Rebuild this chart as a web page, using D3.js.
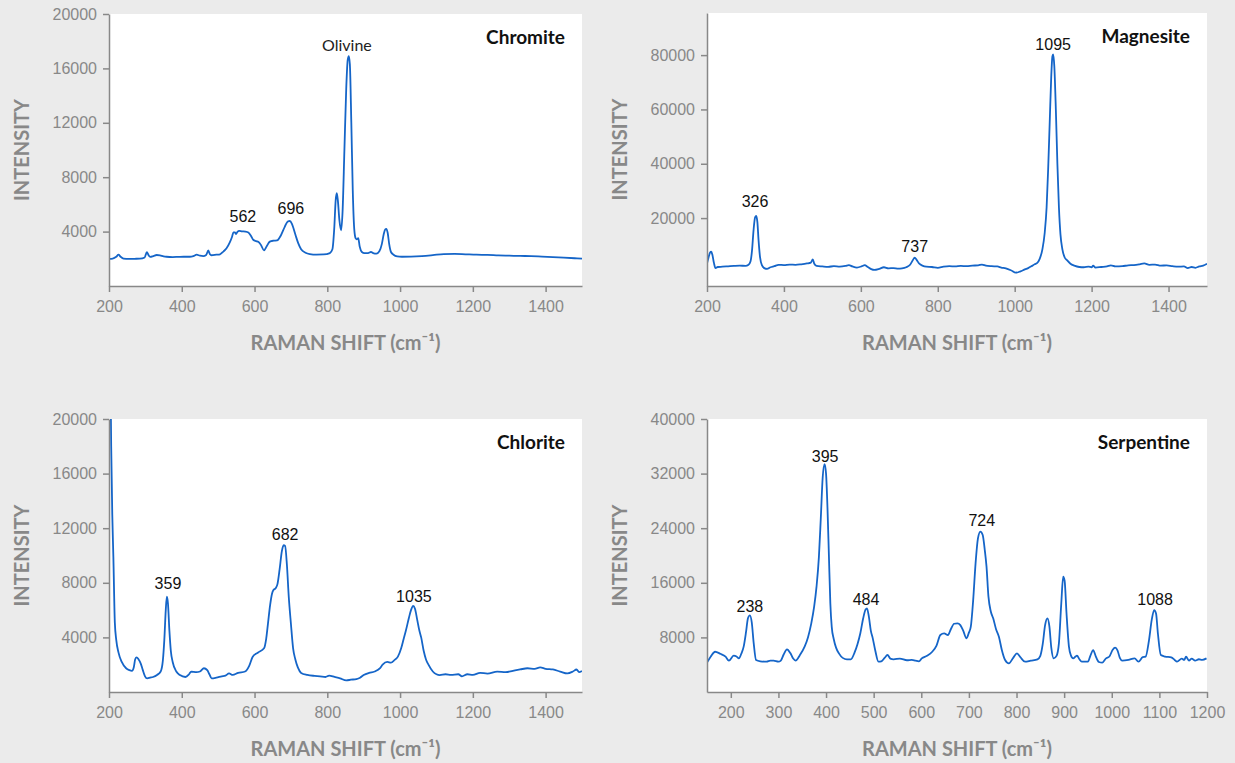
<!DOCTYPE html>
<html>
<head>
<meta charset="utf-8">
<script src="https://cdn.jsdelivr.net/npm/d3@7"></script>
<style>
  body { margin: 0; background: #ebebeb; }
  svg { display: block; }
  .tick text { font-family: "Liberation Sans", Arial, sans-serif; font-size: 16px; fill: #888; }
  .domain, .tick line { stroke: #888; stroke-width: 1.5; }
</style>
</head>
<body>
<svg id="chart" width="1235" height="763"></svg>
<script>
// Raman spectra: [shift cm-1, intensity]

var chromite = [[200,2000],[210,2020],[220,2150],[226,2300],[232,2150],[240,2020],[255,1990],[270,2000],[285,2010],[298,2100],[304,2480],[309,2250],[313,2140],[322,2200],[331,2280],[340,2250],[350,2180],[358,2150],[375,2130],[390,2140],[405,2150],[422,2150],[432,2200],[441,2300],[450,2230],[459,2200],[467,2280],[473,2620],[477,2350],[482,2260],[495,2300],[505,2330],[515,2550],[523,2770],[532,3200],[538,3600],[542,3940],[546,3950],[549,3820],[553,3980],[558,4050],[565,4020],[575,4000],[583,3940],[590,3700],[597,3380],[604,3300],[611,3240],[618,3000],[626,2620],[633,2900],[642,3260],[652,3330],[662,3350],[672,3700],[683,4350],[692,4760],[697,4780],[703,4550],[712,3800],[720,3150],[728,2700],[740,2450],[752,2350],[770,2310],[790,2320],[807,2420],[814,2700],[819,4200],[823,6300],[826,6820],[829,6300],[833,4900],[838,4100],[842,5500],[847,10000],[852,14500],[856,16600],[859,16900],[862,16300],[866,12000],[870,7000],[874,4200],[878,3500],[881,3430],[885,3520],[889,2900],[895,2500],[902,2420],[912,2420],[920,2500],[926,2420],[935,2380],[943,2550],[950,3100],[955,3800],[959,4150],[962,4200],[966,3900],[970,3100],[975,2500],[982,2300],[992,2180],[1005,2150],[1030,2160],[1060,2200],[1090,2270],[1120,2350],[1150,2360],[1180,2330],[1210,2300],[1240,2290],[1270,2250],[1300,2230],[1330,2210],[1360,2200],[1390,2160],[1420,2120],[1450,2080],[1480,2040],[1500,2010]];

var magnesite = [[200,3300],[204,5500],[208,7300],[211,7600],[214,6500],[218,3500],[222,1600],[228,2000],[240,2100],[255,2250],[270,2400],[285,2500],[300,2400],[308,2800],[313,4000],[317,8000],[321,15500],[325,20300],[328,20800],[331,18500],[334,12000],[338,5500],[343,2600],[350,1500],[356,1300],[365,1900],[375,2300],[386,2800],[400,2700],[415,2900],[430,2800],[445,3000],[460,3300],[470,3600],[475,4800],[479,3200],[485,2400],[500,2200],[515,2050],[530,2300],[545,2150],[560,2400],[569,2700],[578,2200],[590,1800],[603,2300],[610,2700],[618,2000],[627,1200],[635,900],[648,1300],[660,1900],[672,1500],[685,1600],[697,1400],[707,1500],[718,1900],[728,2800],[735,4500],[740,5400],[745,4600],[752,3200],[760,2500],[770,2100],[785,2000],[800,1700],[815,2100],[830,2300],[845,2200],[860,2400],[875,2300],[890,2500],[905,2600],[915,2900],[925,2500],[940,2300],[955,2200],[965,1800],[977,1500],[990,800],[1003,-100],[1015,400],[1025,1000],[1035,1600],[1045,2400],[1052,3000],[1058,3400],[1065,5000],[1072,8500],[1078,14500],[1083,24000],[1087,38000],[1091,55000],[1095,72000],[1098,79500],[1100,80300],[1103,76000],[1107,60000],[1111,40000],[1115,24000],[1119,14000],[1124,8500],[1130,5500],[1136,4500],[1145,3200],[1155,2500],[1168,2000],[1180,1900],[1192,2100],[1200,1900],[1204,2500],[1210,1800],[1225,2000],[1240,2200],[1250,2600],[1262,2200],[1280,2300],[1295,2600],[1310,2700],[1325,3000],[1337,3300],[1350,2800],[1365,2900],[1380,2500],[1395,2600],[1410,2300],[1425,2100],[1440,2200],[1450,1600],[1460,2000],[1470,1700],[1480,2200],[1490,2500],[1500,3200]];

var chlorite = [[203,26000],[206,18000],[209,13000],[212,9900],[216,5100],[220,3800],[226,2900],[235,2200],[247,1740],[256,1600],[263,1550],[268,1800],[272,2400],[276,2540],[281,2400],[287,2100],[293,1600],[299,1150],[305,1000],[313,1050],[321,1100],[332,1250],[342,1500],[348,2300],[352,3800],[356,6000],[359,6980],[362,6500],[366,4500],[370,3000],[375,2200],[385,1500],[395,1240],[410,1100],[420,1300],[426,1500],[440,1450],[450,1500],[461,1740],[470,1600],[476,1300],[482,1000],[495,1050],[510,1150],[520,1200],[530,1360],[540,1250],[555,1400],[574,1500],[585,1900],[595,2590],[610,2900],[626,3200],[632,3900],[637,5030],[643,6400],[648,7200],[652,7470],[658,7600],[663,7900],[669,9000],[675,10300],[680,10750],[684,10700],[689,9300],[694,7000],[700,5000],[706,3200],[712,2400],[719,1800],[728,1400],[745,1250],[765,1180],[780,1150],[795,1100],[805,1200],[820,1100],[835,1000],[852,850],[865,900],[880,950],[890,1050],[900,1240],[915,1400],[930,1500],[945,1750],[952,2000],[965,2200],[975,2150],[985,2350],[994,2590],[1003,3200],[1010,3900],[1016,4500],[1024,5400],[1030,6000],[1036,6300],[1041,6100],[1047,5300],[1053,4500],[1058,4000],[1065,3000],[1071,2400],[1078,2000],[1090,1500],[1100,1300],[1109,1240],[1125,1300],[1140,1250],[1160,1300],[1170,1150],[1185,1300],[1200,1250],[1220,1400],[1240,1350],[1267,1500],[1290,1450],[1310,1550],[1330,1650],[1350,1740],[1370,1700],[1385,1800],[1400,1700],[1420,1650],[1440,1500],[1460,1360],[1475,1500],[1485,1650],[1492,1450],[1500,1540]];

var serpentine = [[150,4300],[158,5200],[167,5900],[178,5600],[189,5170],[196,4590],[206,5320],[212,5200],[217,4930],[222,5600],[227,6640],[232,8800],[236,10800],[240,11230],[244,10200],[248,7200],[253,4690],[262,4500],[275,4440],[283,4600],[290,4590],[300,4440],[305,4600],[311,5500],[318,6250],[325,5700],[331,4900],[336,4590],[345,5400],[355,6640],[362,8000],[369,10060],[375,12500],[380,15430],[385,19800],[389,25500],[393,31500],[397,33400],[400,32000],[403,27000],[406,20000],[409,13000],[412,9500],[416,7800],[421,6500],[427,5660],[435,5000],[444,4790],[452,4790],[460,5800],[466,7000],[472,8600],[478,10800],[483,12100],[486,12260],[490,11000],[494,9000],[498,7900],[503,6200],[510,4440],[516,4500],[523,5000],[529,5420],[535,4900],[542,4790],[555,4900],[570,4650],[580,4700],[588,4590],[595,4500],[601,4930],[612,5300],[623,5900],[632,6800],[640,8350],[648,8590],[656,8350],[662,9200],[669,10000],[676,10060],[682,9800],[688,9000],[695,7860],[700,8700],[704,9570],[709,13500],[714,18850],[719,22500],[724,23500],[729,23000],[733,21000],[737,18360],[741,14000],[746,11800],[751,10800],[757,9200],[763,8100],[769,6200],[776,4690],[784,4200],[793,5000],[801,5660],[808,5100],[818,4440],[830,4600],[844,4790],[850,5300],[855,7000],[860,9800],[865,10790],[869,9600],[873,6500],[878,4930],[884,5300],[889,7130],[894,13000],[898,16900],[901,16300],[905,11500],[910,6700],[914,5400],[919,4930],[924,5200],[927,5320],[932,4800],[937,4440],[950,4440],[955,5300],[961,6150],[966,5300],[973,4400],[980,4300],[988,4930],[995,5200],[1002,6200],[1007,6490],[1012,6100],[1017,5000],[1022,4590],[1035,4700],[1048,4930],[1056,4440],[1065,5100],[1071,5170],[1078,7500],[1084,10600],[1089,12010],[1093,11500],[1097,8500],[1103,5420],[1112,5200],[1125,5070],[1132,4700],[1137,4440],[1147,4900],[1152,4700],[1156,5170],[1162,4600],[1168,4900],[1175,4590],[1183,4800],[1190,4700],[1199,4930]];

// peak labels: [text, shift, intensity at text baseline]
var chromiteLabels = [["562", 568, 4740], ["696", 700, 5330]];
var magnesiteLabels = [["326", 325, 23900], ["737", 740, 7700], ["1095", 1100, 81700]];
var chloriteLabels = [["359", 362, 7510], ["682", 684, 11170], ["1035", 1038, 6560]];
var serpentineLabels = [["238", 240, 11650], ["395", 398, 33770], ["484", 484, 12820], ["724", 727, 24250], ["1088", 1091, 12820]];
var olivineLabel = ["Olivine", 854, 17280];

var wideTicks = [200, 400, 600, 800, 1000, 1200, 1400];
var serpTicks = [200, 300, 400, 500, 600, 700, 800, 900, 1000, 1100, 1200];

var panels = [
  {title: "Chromite", data: chromite, labels: chromiteLabels, xDomain: [200, 1500], yDomain: [0, 20000],
   xTicks: wideTicks, yTicks: [4000, 8000, 12000, 16000, 20000], box: {left: 109, top: 14, right: 582, bottom: 286}},
  {title: "Magnesite", data: magnesite, labels: magnesiteLabels, xDomain: [200, 1500], yDomain: [-5000, 95500],
   xTicks: wideTicks, yTicks: [20000, 40000, 60000, 80000], box: {left: 707, top: 13, right: 1207, bottom: 286}},
  {title: "Chlorite", data: chlorite, labels: chloriteLabels, xDomain: [200, 1500], yDomain: [0, 20000],
   xTicks: wideTicks, yTicks: [4000, 8000, 12000, 16000, 20000], box: {left: 109, top: 419, right: 582, bottom: 692}},
  {title: "Serpentine", data: serpentine, labels: serpentineLabels, xDomain: [150, 1200], yDomain: [0, 40000],
   xTicks: serpTicks, yTicks: [8000, 16000, 24000, 32000, 40000], box: {left: 707, top: 419, right: 1207, bottom: 692}}
];

var svg = d3.select("#chart");
var titleFont = "Lato, 'Open Sans', sans-serif";

panels.forEach(function(p, i) {
  var b = p.box;
  var x = d3.scaleLinear().domain(p.xDomain).range([b.left, b.right]);
  var y = d3.scaleLinear().domain(p.yDomain).range([b.bottom, b.top]);

  var g = svg.append("g");

  g.append("rect")
    .attr("x", b.left).attr("y", b.top)
    .attr("width", b.right - b.left).attr("height", b.bottom - b.top)
    .attr("fill", "#fff");

  g.append("clipPath").attr("id", "clip" + i)
    .append("rect")
    .attr("x", b.left).attr("y", b.top)
    .attr("width", b.right - b.left).attr("height", b.bottom - b.top);

  var line = d3.line()
    .x(function(d) { return x(d[0]); })
    .y(function(d) { return y(d[1]); })
    .curve(d3.curveMonotoneX);

  g.append("path")
    .datum(p.data)
    .attr("clip-path", "url(#clip" + i + ")")
    .attr("d", line)
    .attr("fill", "none")
    .attr("stroke", "#1565c8")
    .attr("stroke-width", 1.8)
    .attr("stroke-linejoin", "round");

  g.append("g")
    .attr("transform", "translate(0," + b.bottom + ")")
    .call(d3.axisBottom(x).tickValues(p.xTicks).tickSize(6).tickSizeOuter(0).tickPadding(9).tickFormat(d3.format("d")));

  g.append("g")
    .attr("transform", "translate(" + b.left + ",0)")
    .call(d3.axisLeft(y).tickValues(p.yTicks).tickSize(6).tickSizeOuter(0).tickPadding(6).tickFormat(d3.format("d")));

  // peak labels
  g.selectAll(".peak")
    .data(p.labels)
    .enter()
    .append("text")
    .attr("x", function(d) { return x(d[1]); })
    .attr("y", function(d) { return y(d[2]); })
    .attr("text-anchor", "middle")
    .style("font-family", "'Liberation Sans', Arial, sans-serif")
    .style("font-size", "16px")
    .style("fill", "#111")
    .text(function(d) { return d[0]; });

  if (p.title == "Chromite") {
    g.append("text")
      .attr("x", x(olivineLabel[1]))
      .attr("y", y(olivineLabel[2]))
      .attr("text-anchor", "middle")
      .style("font-family", titleFont)
      .style("font-size", "16px")
      .style("fill", "#222")
      .text(olivineLabel[0]);
  }

  g.append("text")
    .attr("x", b.right - 17)
    .attr("y", b.top + 30)
    .attr("text-anchor", "end")
    .style("font-family", titleFont)
    .style("font-weight", "bold")
    .style("font-size", "19px")
    .style("fill", "#111")
    .text(p.title);

  g.append("text")
    .attr("x", (b.left + b.right) / 2)
    .attr("y", b.bottom + 64)
    .attr("text-anchor", "middle")
    .style("font-family", titleFont)
    .style("font-weight", "bold")
    .style("font-size", "20px")
    .style("fill", "#888")
    .text("RAMAN SHIFT (cm\u207B\u00B9)");

  g.append("text")
    .attr("transform", "translate(" + (b.left - 80) + "," + ((b.top + b.bottom) / 2) + ") rotate(-90)")
    .attr("text-anchor", "middle")
    .style("font-family", titleFont)
    .style("font-weight", "bold")
    .style("font-size", "20px")
    .style("fill", "#888")
    .text("INTENSITY");
});
</script>
</body>
</html>
